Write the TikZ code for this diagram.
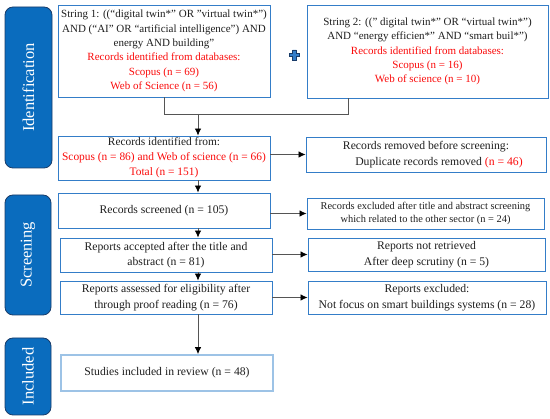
\documentclass[tikz,border=0pt]{standalone}
\usepackage{fontspec}
\setmainfont{Liberation Serif}
\usetikzlibrary{arrows.meta}
\definecolor{boxblue}{RGB}{52,125,200}
\definecolor{lightbox}{RGB}{157,195,230}
\definecolor{sidefill}{RGB}{10,108,190}
\definecolor{sideedge}{RGB}{25,60,105}
\definecolor{linegray}{RGB}{85,85,85}
\definecolor{txtred}{RGB}{250,10,10}
\definecolor{txtdark}{RGB}{30,30,30}
\newcommand{\rd}[1]{\textcolor{txtred}{#1}}
\begin{document}
\begin{tikzpicture}[x=1pt,y=-1pt,
  box/.style={draw=boxblue,line width=0.9pt,align=center,inner sep=0pt,text=txtdark,font=\fontsize{11.7}{15.5}\selectfont},
  srcbox/.style={box,font=\fontsize{11}{14.4}\selectfont},
  finalbox/.style={box,draw=lightbox,line width=1.8pt},
  side/.style={draw=sideedge,fill=sidefill,line width=0.8pt,rounded corners=8pt,inner sep=0pt,text=white,rotate=90,font=\fontsize{16.5}{18}\selectfont},
  conn/.style={draw=linegray,line width=0.8pt},
  arr/.style={conn,-{Latex[length=7pt,width=6.5pt,color=black]}},
  plusmark/.style={draw=sideedge,fill=boxblue,line width=0.6pt}
]
\useasboundingbox (0,0) rectangle (550,419);

% side bars
\node[side,minimum width=161pt,minimum height=47pt] (s1) at (28.5,87.5) {Identification};
\node[side,minimum width=120pt,minimum height=46pt] (s2) at (28,255) {Screening};
\node[side,minimum width=77pt,minimum height=46pt] (s3) at (28,376.5) {Included};

% boxes
\node[srcbox,minimum width=212pt,minimum height=92pt] (b1) at (164,51) {String 1: ((“digital twin*” OR ”virtual twin*”)\\AND (“AI” OR “artificial intelligence”) AND\\energy AND building”\\\rd{Records identified from databases:}\\\rd{Scopus (n = 69)}\\\rd{Web of Science (n = 56)}};
\node[srcbox,minimum width=241pt,minimum height=93pt] (b2) at (427.5,51.5) {String 2: ((” digital twin*” OR “virtual twin*”)\\AND “energy efficien*” AND “smart buil*”)\\\rd{Records identified from databases:}\\\rd{Scopus (n = 16)}\\\rd{Web of science (n = 10)}};
\node[box,minimum width=212pt,minimum height=44pt,font=\fontsize{11.4}{15}\selectfont] (b3) at (164,158) {Records identified from:\\\rd{Scopus (n = 86) and Web of science (n = 66)}\\\rd{Total (n = 151)}};
\node[box,minimum width=240pt,minimum height=35pt] (r3) at (426,154.5) {Records removed before screening:\\\hspace*{26pt}Duplicate records removed \rd{(n = 46)}};
\node[box,minimum width=212pt,minimum height=35pt] (b4) at (164,210.5) {Records screened (n = 105)};
\node[box,minimum width=237pt,minimum height=31pt,font=\fontsize{10.4}{13}\selectfont] (r4) at (425.5,213.5) {Records excluded after title and abstract screening\\which related to the other sector (n = 24)};
\node[box,minimum width=212pt,minimum height=34pt] (b5) at (166,255) {Reports accepted after the title and\\abstract (n = 81)};
\node[box,minimum width=237pt,minimum height=33pt] (r5) at (426.5,254.5) {Reports not retrieved\\After deep scrutiny (n = 5)};
\node[box,minimum width=212pt,minimum height=33pt] (b6) at (166,297.5) {Reports assessed for eligibility after\\through proof reading (n = 76)};
\node[box,minimum width=238pt,minimum height=33pt] (r6) at (427,297.5) {Reports excluded:\\Not focus on smart buildings systems (n = 28)};
\node[finalbox,minimum width=212pt,minimum height=36pt] (b7) at (167,373) {Studies included in review (n = 48)};

% plus sign
\path[plusmark,shift={(294.5,55)}] (-5,-1.8) -- (-1.8,-1.8) -- (-1.8,-5) -- (1.8,-5) -- (1.8,-1.8) -- (5,-1.8) -- (5,1.8) -- (1.8,1.8) -- (1.8,5) -- (-1.8,5) -- (-1.8,1.8) -- (-5,1.8) -- cycle;

% connectors
\coordinate (ax) at (198,0);
\coordinate (j1) at (164,114);
\coordinate (j2) at (348,114);
\draw[conn] (b1.south) -- (j1) -- (j2) -- (j2 |- b2.south);
\draw[arr] (ax |- j1) -- (ax |- b3.north);
\draw[arr] (ax |- b3.south) -- (ax |- b4.north);
\draw[arr] (ax |- b4.south) -- (ax |- b5.north);
\draw[arr] (ax |- b5.south) -- (ax |- b6.north);
\draw[arr] (ax |- b6.south) -- (ax |- b7.north);
\draw[arr] (b3.east |- r3.west) -- (r3.west);
\draw[arr] (b4.east |- r4.west) -- (r4.west);
\draw[arr] (b5.east |- r5.west) -- (r5.west);
\draw[arr] (b6.east |- r6.west) -- (r6.west);
\end{tikzpicture}
\end{document}
